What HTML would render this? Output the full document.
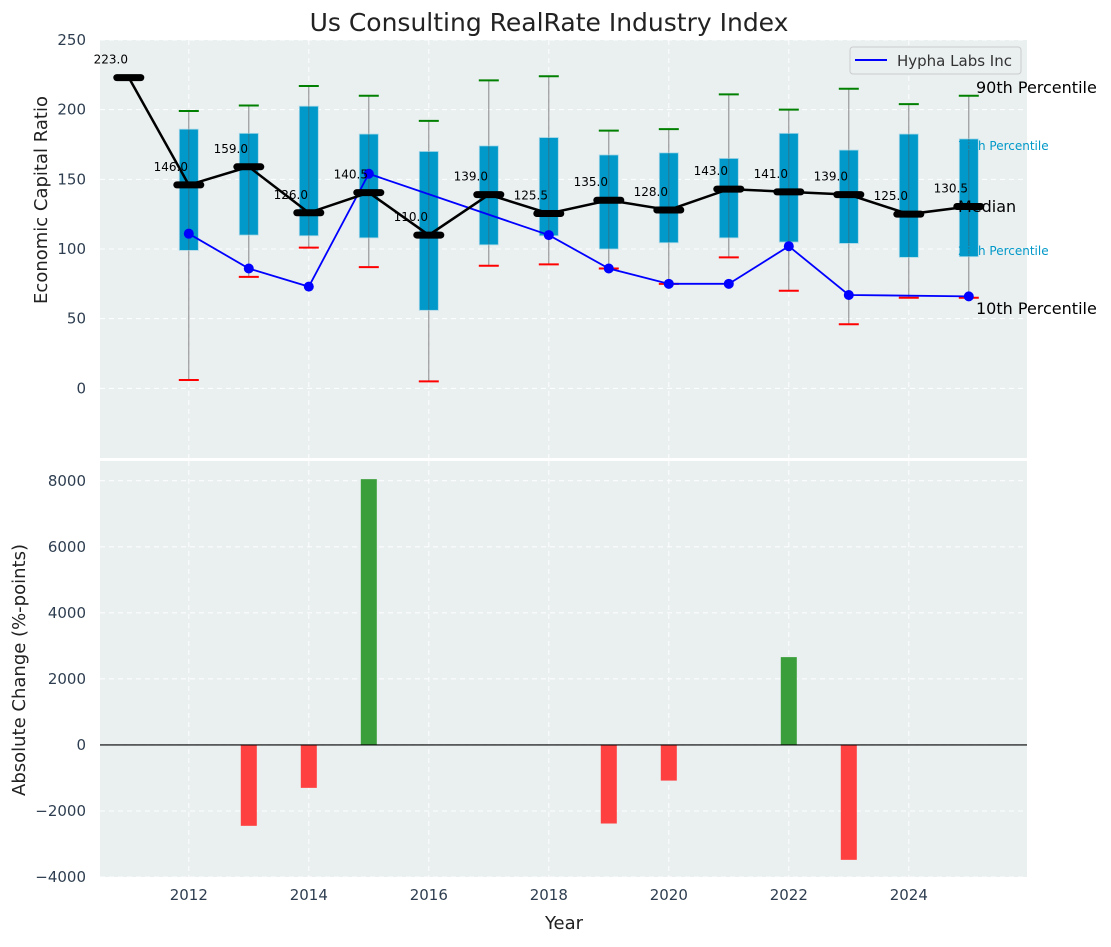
<!DOCTYPE html>
<html><head><meta charset="utf-8"><style>
body{margin:0;background:#fff;font-family:"Liberation Sans","DejaVu Sans",sans-serif;}
svg text{font-family:"DejaVu Sans","Liberation Sans",sans-serif;}
</style></head><body>
<svg id="c" width="1111" height="942" xmlns="http://www.w3.org/2000/svg"></svg>
<script>
const years=[2011,2012,2013,2014,2015,2016,2017,2018,2019,2020,2021,2022,2023,2024,2025];
const medians=[223,146,159,126,140.5,110,139,125.5,135,128,143,141,139,125,130.5];
const q75=[null,186,183,202.5,182.5,170,174,180,167.5,169,165,183,171,182.5,179];
const q25=[null,99,110,109.5,108,56,103,109.5,100,104.5,108,105,104,94,94.5];
const p90=[null,199,203,217,210,192,221,224,185,186,211,200,215,204,210];
const p10=[null,6,80,101,87,5,88,89,86,75,94,70,46,65,65];
const hypha=[null,111,86,73,154,null,null,110,86,75,75,102,67,null,66];
const changes=[0,0,-2450,-1300,8050,0,0,0,-2380,-1080,0,2660,-3480,0,0];
const yTicksTop=[0,50,100,150,200,250];
const yTicksBot=[-4000,-2000,0,2000,4000,6000,8000];
const xTicks=[2012,2014,2016,2018,2020,2022,2024];

const S=document.getElementById('c');const NS='http://www.w3.org/2000/svg';
function el(t,a,p){const e=document.createElementNS(NS,t);for(const k in a)e.setAttribute(k,a[k]);(p||S).appendChild(e);return e;}
const L=100,R=1027;
const x=v=>L+(v-2010.52)/(2025.97-2010.52)*(R-L);
const T0=40,T1=458,yt=v=>T1-(v+50)/300*(T1-T0);
const B0=461,B1=877,yb=v=>B1-(v+4000)/12600*(B1-B0);

let t=el('text',{x:549,y:31,'text-anchor':'middle','font-size':25,fill:'#222'});t.textContent='Us Consulting RealRate Industry Index';


let p=el('rect',{x:L,y:T0,width:R-L,height:T1-T0,fill:'#eaeff0'});

p=el('rect',{x:L,y:B0,width:R-L,height:B1-B0,fill:'#eaeff0'});


xTicks.forEach(v=>{
 el('line',{x1:x(v),x2:x(v),y1:T0,y2:T1,stroke:'#fff','stroke-dasharray':'5,4','stroke-width':1});
 el('line',{x1:x(v),x2:x(v),y1:B0,y2:B1,stroke:'#fff','stroke-dasharray':'5,4','stroke-width':1});
 const tx=el('text',{x:x(v),y:900,'text-anchor':'middle','font-size':15,fill:'#2e3e50'});tx.textContent=v;
 
});
yTicksTop.forEach(v=>{
 el('line',{x1:L,x2:R,y1:yt(v),y2:yt(v),stroke:'#fff','stroke-dasharray':'5,4'});
 const tx=el('text',{x:86,y:yt(v)+5,'text-anchor':'end','font-size':15,fill:'#2e3e50'});tx.textContent=v;
 
});
yTicksBot.forEach(v=>{
 el('line',{x1:L,x2:R,y1:yb(v),y2:yb(v),stroke:'#fff','stroke-dasharray':'5,4'});
 const tx=el('text',{x:86,y:yb(v)+5,'text-anchor':'end','font-size':15,fill:'#2e3e50'});tx.textContent=v===0?'0':(v<0?'\u2212'+(-v):v);
 
});

t=el('text',{x:0,y:0,transform:'translate(47,200) rotate(-90)','text-anchor':'middle','font-size':18,fill:'#222'});t.textContent='Economic Capital Ratio';

t=el('text',{x:0,y:0,transform:'translate(25,670) rotate(-90)','text-anchor':'middle','font-size':18,fill:'#222'});t.textContent='Absolute Change (%-points)';

t=el('text',{x:564,y:929,'text-anchor':'middle','font-size':18,fill:'#222'});t.textContent='Year';


years.forEach((yr,i)=>{
 if(p90[i]==null)return;
 const cx=x(yr);
 const w=el('line',{x1:cx,x2:cx,y1:yt(p90[i]),y2:yt(p10[i]),stroke:'#888','stroke-width':1});
 
 const b=el('rect',{x:cx-9.5,y:yt(q75[i]),width:19,height:yt(q25[i])-yt(q75[i]),fill:'#0099c9',stroke:'#a8d8e8','stroke-width':0.8});
 
 el('line',{x1:cx,x2:cx,y1:yt(q75[i]),y2:yt(q25[i]),stroke:'#555','stroke-width':1,opacity:0.5});
 const c1=el('line',{x1:cx-10,x2:cx+10,y1:yt(p90[i]),y2:yt(p90[i]),stroke:'green','stroke-width':2});
 
 const c2=el('line',{x1:cx-10,x2:cx+10,y1:yt(p10[i]),y2:yt(p10[i]),stroke:'red','stroke-width':2});
 
});

let cur=[];
years.forEach((yr,i)=>{if(hypha[i]!=null)cur.push(x(yr)+','+yt(hypha[i]));});
let hl=el('polyline',{points:cur.join(' '),fill:'none',stroke:'blue','stroke-width':1.8});

years.forEach((yr,i)=>{if(hypha[i]==null)return;
 const d=el('circle',{cx:x(yr),cy:yt(hypha[i]),r:5,fill:'blue'});
 });

let ml=el('polyline',{points:years.map((yr,i)=>x(yr)+','+yt(medians[i])).join(' '),fill:'none',stroke:'#000','stroke-width':2.5});

years.forEach((yr,i)=>{
 const m=el('line',{x1:x(yr)-12,x2:x(yr)+12,y1:yt(medians[i]),y2:yt(medians[i]),stroke:'#000','stroke-width':7,'stroke-linecap':'round'});
 
 const lb=el('text',{x:x(yr)-18,y:yt(medians[i])-14,'text-anchor':'middle','font-size':12,fill:'#000'});lb.textContent=medians[i].toFixed(1);
 
});

const rl=[['90th Percentile',976,93,16,'#000'],['75th Percentile',958,150,12,'#0099c9'],['Median',958,212,16,'#000'],['25th Percentile',958,255,12,'#0099c9'],['10th Percentile',976,314,16,'#000']];
rl.forEach(r=>{const e=el('text',{x:r[1],y:r[2],'font-size':r[3],fill:r[4]});e.textContent=r[0];
 });

const lg=el('g',{});
el('rect',{x:850,y:47,width:171,height:27,rx:3,fill:'#eaeff0',stroke:'#ccc'},lg);
el('line',{x1:855,x2:887,y1:60,y2:60,stroke:'blue','stroke-width':2},lg);
t=el('text',{x:897,y:66,'font-size':15,fill:'#333'},lg);t.textContent='Hypha Labs Inc';

years.forEach((yr,i)=>{
 if(!changes[i])return;const v=changes[i];
 const r=el('rect',{x:x(yr)-8,y:Math.min(yb(v),yb(0)),width:16,height:Math.abs(yb(v)-yb(0)),fill:v>0?'#3a9e3a':'#ff4040'});
 
});
const zl=el('line',{x1:L,x2:R,y1:yb(0),y2:yb(0),stroke:'#000','stroke-width':1.2});

</script>
</body></html>
